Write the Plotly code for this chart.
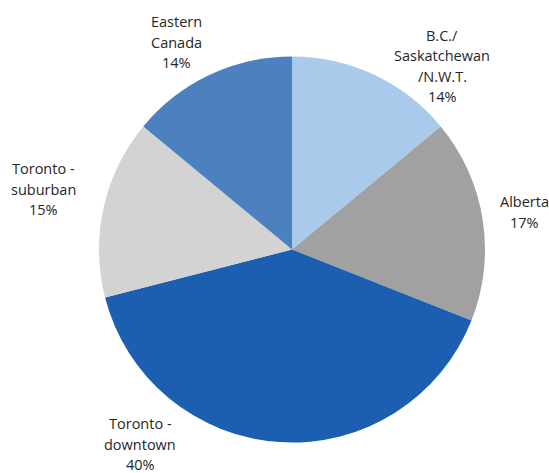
import plotly.graph_objects as go

# Share of total by region (percent)
regions = [
    "B.C./<br>Saskatchewan<br>/N.W.T.",
    "Alberta",
    "Toronto -<br>downtown",
    "Toronto -<br>suburban",
    "Eastern<br>Canada",
]
shares = [14, 17, 40, 15, 14]
slice_colors = ["#A9CAEA", "#A1A1A1", "#1C5FB0", "#D3D3D3", "#4C80BE"]

W, H = 549, 473
cx, cy, r = 292, 249.5, 193

# Centre of each data label block, in pixels from the top-left corner
label_centres = [(442, 66), (524, 212), (140, 444), (43, 189), (176, 42)]
line_pitch = 20.5
text_font = dict(family="Open Sans, Noto Sans, sans-serif", size=14.5, color="#262626")

fig = go.Figure(
    go.Pie(
        labels=regions,
        values=shares,
        sort=False,
        direction="clockwise",
        rotation=0,
        marker=dict(colors=slice_colors, line=dict(width=0)),
        textinfo="none",
        hoverinfo="label+percent",
        domain=dict(
            x=[(cx - r) / W, (cx + r) / W],
            y=[(H - cy - r) / H, (H - cy + r) / H],
        ),
        showlegend=False,
    )
)

total = sum(shares)
for name, value, (px, py) in zip(regions, shares, label_centres):
    lines = name.split("<br>") + [f"{round(100 * value / total)}%"]
    n = len(lines)
    for i, line in enumerate(lines):
        ly = py + (i - (n - 1) / 2) * line_pitch
        fig.add_annotation(
            x=px / W,
            y=1 - ly / H,
            xref="paper",
            yref="paper",
            text=line,
            showarrow=False,
            xanchor="center",
            yanchor="middle",
            font=text_font,
        )

fig.update_layout(
    width=W,
    height=H,
    margin=dict(l=0, r=0, t=0, b=0),
    paper_bgcolor="white",
    plot_bgcolor="white",
)

fig.write_html("out.html")
